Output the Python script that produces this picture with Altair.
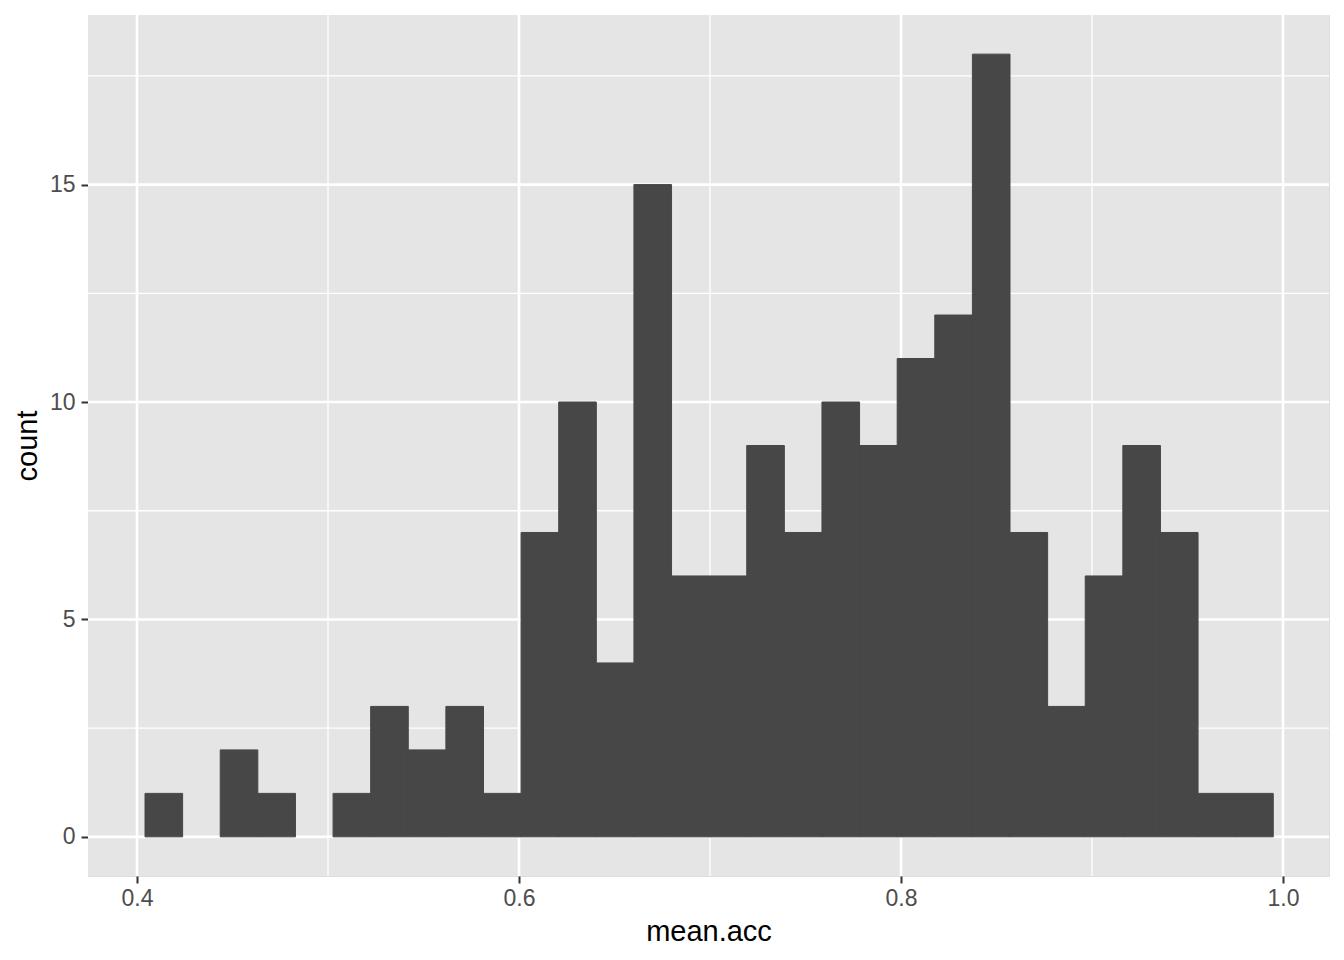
import altair as alt
import pandas as pd

# histogram of mean.acc: 30 bins
bin_first_start = 0.4042
bin_width = 0.01969
counts = [1, 0, 2, 1, 0, 1, 3, 2, 3, 1, 7, 10, 4, 15, 6, 6, 9, 7, 10, 9,
          11, 12, 18, 7, 3, 6, 9, 7, 1, 1]

x_major = [0.4, 0.6, 0.8, 1.0]
x_minor = [0.5, 0.7, 0.9]
y_major = [0, 5, 10, 15]
y_minor = [2.5, 7.5, 12.5, 17.5]

x_domain = [0.37435, 1.02408]
y_domain = [-0.9, 18.9]

W, H = 1241, 861

bars = pd.DataFrame({
    "x0": [bin_first_start + i * bin_width for i in range(len(counts))],
    "x1": [bin_first_start + (i + 1) * bin_width for i in range(len(counts))],
    "count": counts,
})
bars["base"] = 0
bars = bars[bars["count"] > 0]

xs = alt.Scale(domain=x_domain, nice=False, zero=False)
ys = alt.Scale(domain=y_domain, nice=False, zero=False)

font = "Liberation Sans"

x_axis = alt.Axis(values=x_major, format=".1f", grid=False, domain=False,
                  tickColor="#333333", tickWidth=2, tickSize=7,
                  labelColor="#4D4D4D", labelFontSize=23, labelFont=font,
                  labelPadding=4, title="mean.acc", titleFont=font,
                  titleFontSize=29, titleFontWeight="normal",
                  titleColor="#000000", titlePadding=7)
y_axis = alt.Axis(values=y_major, format="d", grid=False, domain=False,
                  tickColor="#333333", tickWidth=2, tickSize=7,
                  labelColor="#4D4D4D", labelFontSize=23, labelFont=font,
                  labelPadding=6, title="count", titleFont=font,
                  titleFontSize=29, titleFontWeight="normal",
                  titleColor="#000000", titlePadding=7)

bg = alt.Chart(pd.DataFrame({"d": [0]})).mark_rect(color="#E5E5E5").encode(
    x=alt.value(0), x2=alt.value(W), y=alt.value(0), y2=alt.value(H))

vminor = alt.Chart(pd.DataFrame({"v": x_minor})).mark_rule(
    color="white", strokeWidth=1.3).encode(
    x=alt.X("v:Q", scale=xs, axis=x_axis, title="mean.acc"))
vmajor = alt.Chart(pd.DataFrame({"v": x_major})).mark_rule(
    color="white", strokeWidth=2.6).encode(
    x=alt.X("v:Q", scale=xs, axis=x_axis, title="mean.acc"))
hminor = alt.Chart(pd.DataFrame({"v": y_minor})).mark_rule(
    color="white", strokeWidth=1.3).encode(
    y=alt.Y("v:Q", scale=ys, axis=y_axis, title="count"))
hmajor = alt.Chart(pd.DataFrame({"v": y_major})).mark_rule(
    color="white", strokeWidth=2.6).encode(
    y=alt.Y("v:Q", scale=ys, axis=y_axis, title="count"))

hist = alt.Chart(bars).mark_rect(color="#474747", stroke="#474747",
                                 strokeWidth=1).encode(
    x=alt.X("x0:Q", scale=xs, axis=x_axis, title="mean.acc"),
    x2="x1:Q",
    y=alt.Y("count:Q", scale=ys, axis=y_axis, title="count"),
    y2="base:Q",
)

chart = alt.layer(bg, vminor, hminor, vmajor, hmajor, hist).properties(
    width=W, height=H,
    autosize=alt.AutoSizeParams(type="none"),
    padding={"left": 80, "top": 7, "right": 7, "bottom": 77},
).configure_view(stroke=None).configure(background="white")

chart.save("out.html", embed_options={"renderer": "svg", "actions": False})
